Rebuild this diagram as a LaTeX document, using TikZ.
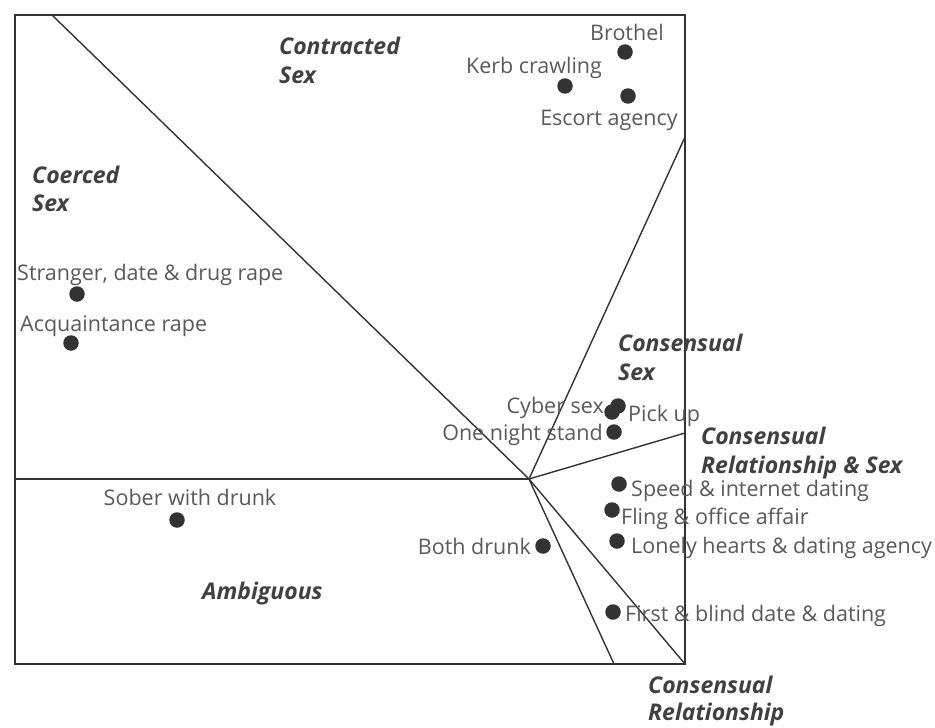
\documentclass[tikz,border=0pt]{standalone}
\usepackage{fontspec}
\setmainfont{Open Sans}
\begin{document}
\begin{tikzpicture}[x=1pt,y=-1pt,
  dot/.style={circle,fill=black!80,inner sep=0pt,minimum size=15.5pt},
  lbl/.style={font=\fontsize{21.5}{26}\selectfont,text=black!65,inner sep=0pt},
  region/.style={font=\fontsize{23}{28}\selectfont\bfseries\itshape,text=black!75,inner sep=0pt,anchor=base west},
  edge/.style={draw=black!80,line width=1.4pt}]
\useasboundingbox (0,0) rectangle (935,728);
\coordinate (tl) at (15,15);
\coordinate (br) at (685,664);
\coordinate (C) at (529,479);
\coordinate (topd) at (52,15);
\coordinate (leftm) at (15,479);
\coordinate (rup) at (685,137);
\coordinate (rmid) at (685,433);
\coordinate (bmid) at (614,664);
\draw[edge] (tl) rectangle (br);
\draw[edge] (topd) -- (C);
\draw[edge] (leftm) -- (C);
\draw[edge] (C) -- (rup);
\draw[edge] (C) -- (rmid);
\draw[edge] (C) -- (bmid);
\draw[edge] (C) -- (br);
% dots
\node[dot] (brothel) at (625,52) {};
\node[dot] (kerb) at (565,86) {};
\node[dot] (escort) at (628,96) {};
\node[dot] (stranger) at (77,294) {};
\node[dot] (acq) at (71,343) {};
\node[dot] (pick) at (618,406) {};
\node[dot] (cyber) at (612,412) {};
\node[dot] (one) at (614,432) {};
\node[dot] (speed) at (619,484) {};
\node[dot] (fling) at (612,510) {};
\node[dot] (lonely) at (617,541) {};
\node[dot] (first) at (613,612) {};
\node[dot] (both) at (543,546) {};
\node[dot] (sober) at (177,520) {};
% labels
\node[lbl,anchor=base] (lbrothel) at (627,40) {Brothel};
\node[lbl,anchor=base] (lkerb) at (534,73) {Kerb crawling};
\node[lbl,anchor=base] (lescort) at (609,125) {Escort agency};
\node[lbl,anchor=base west] (lstranger) at (17,280) {Stranger, date \& drug rape};
\node[lbl,anchor=base west] (lacq) at (20,331) {Acquaintance rape};
\node[lbl,anchor=base east] (lcyber) at (604,413) {Cyber sex};
\node[lbl,anchor=base west] (lpick) at (628,421) {Pick up};
\node[lbl,anchor=base east] (lone) at (603,440) {One night stand};
\node[lbl,anchor=base west] (lspeed) at (631,496) {Speed \& internet dating};
\node[lbl,anchor=base west] (lfling) at (621,524) {Fling \& office affair};
\node[lbl,anchor=base west] (llonely) at (631,553) {Lonely hearts \& dating agency};
\node[lbl,anchor=base west] (lfirst) at (625,621) {First \& blind date \& dating};
\node[lbl,anchor=base east] (lboth) at (531,554) {Both drunk};
\node[lbl,anchor=base] (lsober) at (190,505) {Sober with drunk};
% region labels
\node[region] (rcontrA) at (279,54.5) {Contracted};
\node[region] (rcontrB) at (279,83.5) {Sex};
\node[region] (rcoerA) at (32,183.5) {Coerced};
\node[region] (rcoerB) at (32,211.5) {Sex};
\node[region] (rcsexA) at (618,351.5) {Consensual};
\node[region] (rcsexB) at (618,380.5) {Sex};
\node[region] (rcrsA) at (701,444.5) {Consensual};
\node[region] (rcrsB) at (701,473.5) {Relationship \& Sex};
\node[region] (ramb) at (202,599.5) {Ambiguous};
\node[region] (rcrA) at (648,693) {Consensual};
\node[region] (rcrB) at (648,720) {Relationship};
\end{tikzpicture}
\end{document}
